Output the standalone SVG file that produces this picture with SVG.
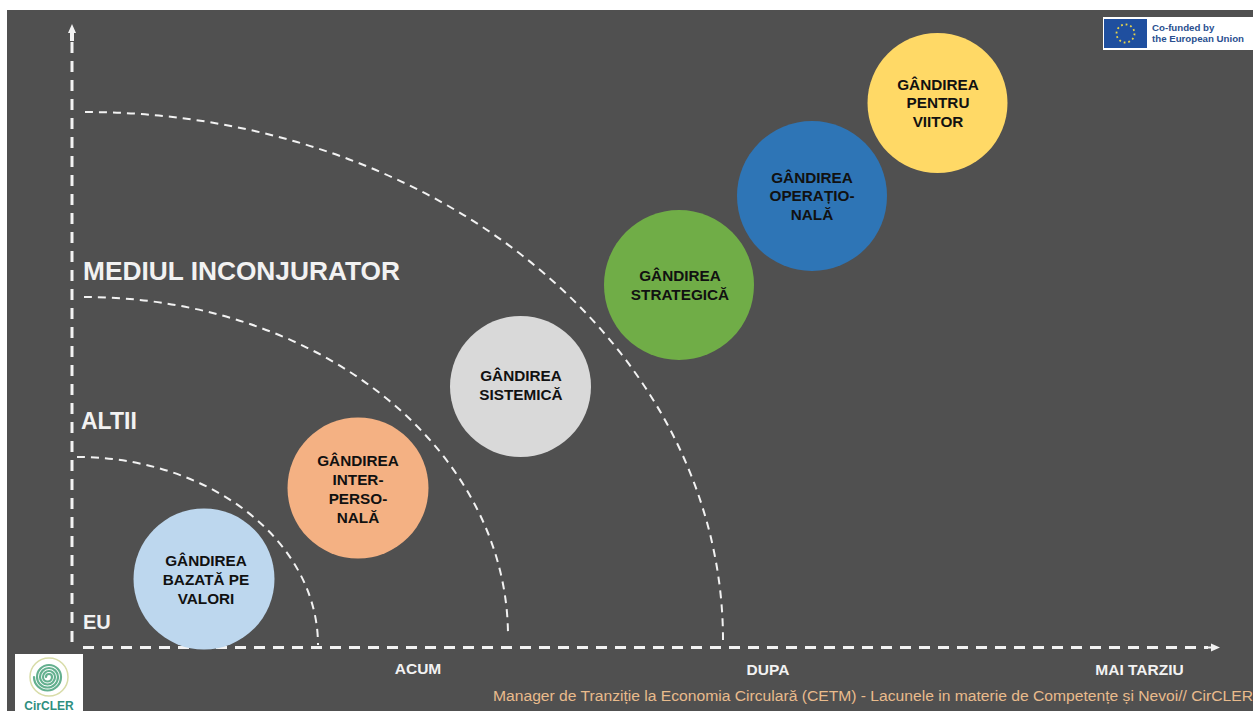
<svg xmlns="http://www.w3.org/2000/svg" width="1253" height="711" viewBox="0 0 1253 711">
<style>
.lbl{font-family:"Liberation Sans",Arial,sans-serif;font-weight:700;fill:#111;font-size:15.300px;text-anchor:middle}
.ax{font-family:"Liberation Sans",Arial,sans-serif;font-weight:700;fill:#f2f2f2}
.axis{fill:none;stroke:#f2f2f2;stroke-width:3;stroke-dasharray:11 8}
.arc{fill:none;stroke:#f2f2f2;stroke-width:2;stroke-dasharray:8 6}
.head{fill:#f2f2f2}
</style>
<rect width="1253" height="711" fill="#fff"/>
<rect x="7" y="10" width="1246" height="701" fill="#505050"/>
<g id="connectors">
<path class="axis" d="M72 642V40"/>
<path class="head" d="M72 24l4 9h-2v8h-4v-8h-2z"/>
<path class="axis" d="M83 647.500H1208"/>
<path class="head" d="M1220 647.500l-9-4v3h-7v2h7v3z"/>
<path class="arc" d="M85 112A638 528 0 0 1 723 640"/>
<path class="arc" d="M84 297A424 339 0 0 1 508 636"/>
<path class="arc" d="M77 457A241 188 0 0 1 318 645"/>
</g>
<g id="node-valori"><circle cx="204" cy="579" r="70.500" fill="#bdd7ee"/><text class="lbl" x="206" y="566">GÂNDIREA</text><text class="lbl" x="206" y="585">BAZATĂ PE</text><text class="lbl" x="206" y="604">VALORI</text></g>
<g id="node-interpersonala"><circle cx="358" cy="488" r="70.500" fill="#f4b183"/><text class="lbl" x="358" y="466">GÂNDIREA</text><text class="lbl" x="358" y="485">INTER-</text><text class="lbl" x="358" y="504">PERSO-</text><text class="lbl" x="358" y="523">NALĂ</text></g>
<g id="node-sistemica"><circle cx="520.500" cy="386.500" r="70.500" fill="#d9d9d9"/><text class="lbl" x="521" y="381">GÂNDIREA</text><text class="lbl" x="521" y="400">SISTEMICĂ</text></g>
<g id="node-strategica"><circle cx="679" cy="285" r="75" fill="#70ad47"/><text class="lbl" x="680" y="281">GÂNDIREA</text><text class="lbl" x="680" y="300">STRATEGICĂ</text></g>
<g id="node-operationala"><circle cx="812" cy="196" r="75" fill="#2e75b6"/><text class="lbl" x="812" y="183">GÂNDIREA</text><text class="lbl" x="812" y="201">OPERAȚIO-</text><text class="lbl" x="812" y="220">NALĂ</text></g>
<g id="node-viitor"><circle cx="937.500" cy="103" r="70" fill="#ffd966"/><text class="lbl" x="938" y="90">GÂNDIREA</text><text class="lbl" x="938" y="108">PENTRU</text><text class="lbl" x="938" y="127">VIITOR</text></g>
<text class="ax" x="83" y="280" font-size="26.300">MEDIUL INCONJURATOR</text>
<text class="ax" x="81" y="429" font-size="23">ALTII</text>
<text class="ax" x="83" y="629" font-size="20">EU</text>
<text class="ax" x="418" y="674" font-size="15.500" text-anchor="middle">ACUM</text>
<text class="ax" x="768" y="675" font-size="15.500" text-anchor="middle">DUPA</text>
<text class="ax" x="1139.500" y="675" font-size="15.500" text-anchor="middle">MAI TARZIU</text>
<text x="493" y="701" font-family="'Liberation Sans',Arial,sans-serif" font-size="15.500" fill="#e9bb8c" textLength="760" lengthAdjust="spacingAndGlyphs">Manager de Tranziție la Economia Circulară (CETM) - Lacunele in materie de Competențe și Nevoi// CirCLER</text>
<g id="logo-circler">
<rect x="15" y="654" width="68" height="57" fill="#fff"/>
<circle cx="49" cy="677" r="19" fill="none" stroke="#d8dca8" stroke-width="1.500"/>
<path d="M46 677a3 3 0 0 1 6 0a4.500 4.500 0 0 1-9 0a6 6 0 0 1 12 0a7.500 7.500 0 0 1-15 0a9 9 0 0 1 18 0a10.500 10.500 0 0 1-21 0a12 12 0 0 1 24 0a13.500 13.500 0 0 1-27 0" fill="none" stroke="#64b08f" stroke-width="2.200" stroke-linecap="round"/>
<text x="49" y="710" font-family="'Liberation Sans',Arial,sans-serif" font-weight="700" font-size="12" fill="#2f8f7f" text-anchor="middle">CirCLER</text>
</g>
<g id="logo-eu">
<rect x="1103" y="17" width="150" height="33" fill="#fff"/>
<rect x="1104" y="19" width="43" height="29" fill="#1f4f9f"/>
<circle cx="1125.500" cy="33.500" r="9" fill="none" stroke="#e8d44a" stroke-width="1.800" stroke-dasharray="1.800 2.900"/>
<text x="1152" y="31" font-family="'Liberation Sans',Arial,sans-serif" font-weight="700" font-size="9.700" fill="#2a4f8f">Co-funded by</text>
<text x="1152" y="42" font-family="'Liberation Sans',Arial,sans-serif" font-weight="700" font-size="9.700" fill="#2a4f8f">the European Union</text>
</g>
</svg>
